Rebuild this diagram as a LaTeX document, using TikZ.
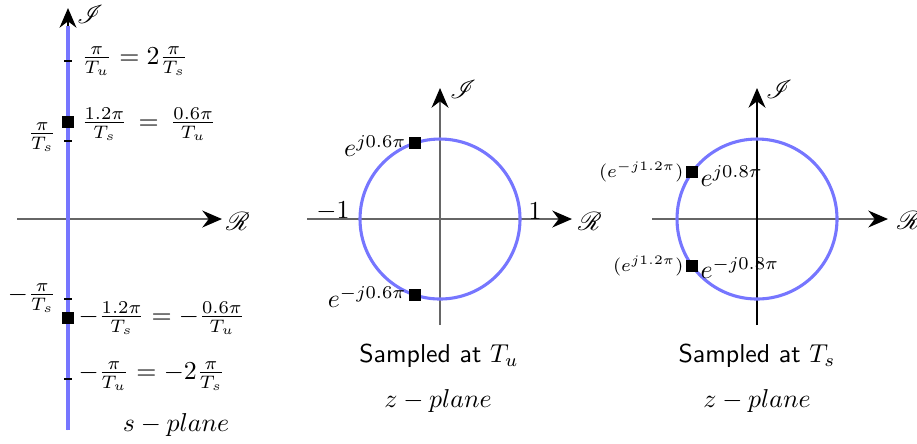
\documentclass[tikz,border=0pt]{standalone}
\usepackage{mathrsfs}
\usetikzlibrary{arrows.meta}
\definecolor{axgray}{gray}{0.4}
\definecolor{cblue}{RGB}{118,118,255}
\tikzset{
  axis/.style={draw=axgray, line width=0.6pt, -{Stealth[length=7pt,width=6pt,color=black]}},
  unitc/.style={draw=cblue, line width=1.1pt},
  pole/.style={rectangle, fill=black, draw=none, minimum size=1.5mm, inner sep=0pt},
  tickmark/.style={draw=black, line width=0.7pt},
  lbl/.style={inner sep=0pt, scale=0.92}
}
\begin{document}
\begin{tikzpicture}[x=0.125mm,y=-0.125mm]
\useasboundingbox (0,0) rectangle (917,443);
% ---------------- s-plane ----------------
\coordinate (sL) at (17,219);
\coordinate (sR) at (222,219);
\coordinate (sB) at (68,430);
\coordinate (sT) at (68,8);
\coordinate (sTb) at (68,26);
\draw[axis] (sL) -- (sR);
\draw[axis, draw=black] (sB) -- (sT);
\draw[draw=cblue, line width=1.1pt] (sB) -- (sTb);
\foreach \yy in {61,141,299,379} \draw[tickmark] (64,\yy) -- (72,\yy);
\node[pole] (sp1) at (68,122) {};
\node[pole] (sp2) at (68,318) {};
\node[lbl] (sRe) at (238,221) {$\mathscr{R}$};
\node[lbl] (sIm) at (90,14) {$\mathscr{I}$};
\node[lbl, anchor=west] (l1) at (81,61) {$\frac{\pi}{T_u} = 2\frac{\pi}{T_s}$};
\node[lbl, anchor=west] (l2) at (81,124) {$\frac{1.2\pi}{T_s} \,=\, \frac{0.6\pi}{T_u}$};
\node[lbl, anchor=east] (l3) at (57,137) {$\frac{\pi}{T_s}$};
\node[lbl, anchor=east] (l4) at (57,298) {$-\frac{\pi}{T_s}$};
\node[lbl, anchor=west] (l5) at (78,318) {$-\frac{1.2\pi}{T_s} = -\frac{0.6\pi}{T_u}$};
\node[lbl, anchor=west] (l6) at (78,376) {$-\frac{\pi}{T_u} = -2\frac{\pi}{T_s}$};
\node[lbl] (splane) at (176,425) {$s-plane$};
% ---------------- z-plane, T_u ----------------
\coordinate (mO) at (440,219);
\coordinate (mL) at (307,219);
\coordinate (mR) at (572,219);
\coordinate (mB) at (440,325);
\coordinate (mT) at (440,88);
\draw[axis] (mL) -- (mR);
\draw[axis] (mB) -- (mT);
\draw[unitc] (mO) circle[radius=10mm];
\node[pole] (mp1) at (415,143) {};
\node[pole] (mp2) at (415,295) {};
\node[lbl, anchor=east] (ml1) at (407,146) {$e^{j0.6\pi}$};
\node[lbl, anchor=east] (ml2) at (407,297) {$e^{-j0.6\pi}$};
\node[lbl] (mm1) at (333,211) {$-1$};
\node[lbl] (mp1l) at (535,211) {$1$};
\node[lbl] (mRe) at (590,221) {$\mathscr{R}$};
\node[lbl] (mIm) at (463,89) {$\mathscr{I}$};
\node[lbl] (ms) at (439,356) {\textsf{Sampled at} $T_u$};
\node[lbl] (mz) at (438,401) {$z-plane$};
% ---------------- z-plane, T_s ----------------
\coordinate (rO) at (757,219);
\coordinate (rL) at (652,219);
\coordinate (rR) at (888,219);
\coordinate (rB) at (757,325);
\coordinate (rT) at (757,88);
\draw[axis] (rL) -- (rR);
\draw[axis, draw=black] (rB) -- (rT);
\draw[unitc] (rO) circle[radius=10mm];
\node[pole] (rp1) at (692,172) {};
\node[pole] (rp2) at (692,266) {};
\node[lbl, anchor=east, font=\scriptsize] (rl1a) at (684,172) {$(e^{-j1.2\pi})$};
\node[lbl, anchor=west] (rl1b) at (700,176) {$e^{j0.8\pi}$};
\node[lbl, anchor=east, font=\scriptsize] (rl2a) at (684,266) {$(e^{j1.2\pi})$};
\node[lbl, anchor=west] (rl2b) at (700,268) {$e^{-j0.8\pi}$};
\node[lbl] (rRe) at (909,220) {$\mathscr{R}$};
\node[lbl] (rIm) at (779,89) {$\mathscr{I}$};
\node[lbl] (rs) at (757,356) {\textsf{Sampled at} $T_s$};
\node[lbl] (rz) at (757,401) {$z-plane$};
\end{tikzpicture}
\end{document}
